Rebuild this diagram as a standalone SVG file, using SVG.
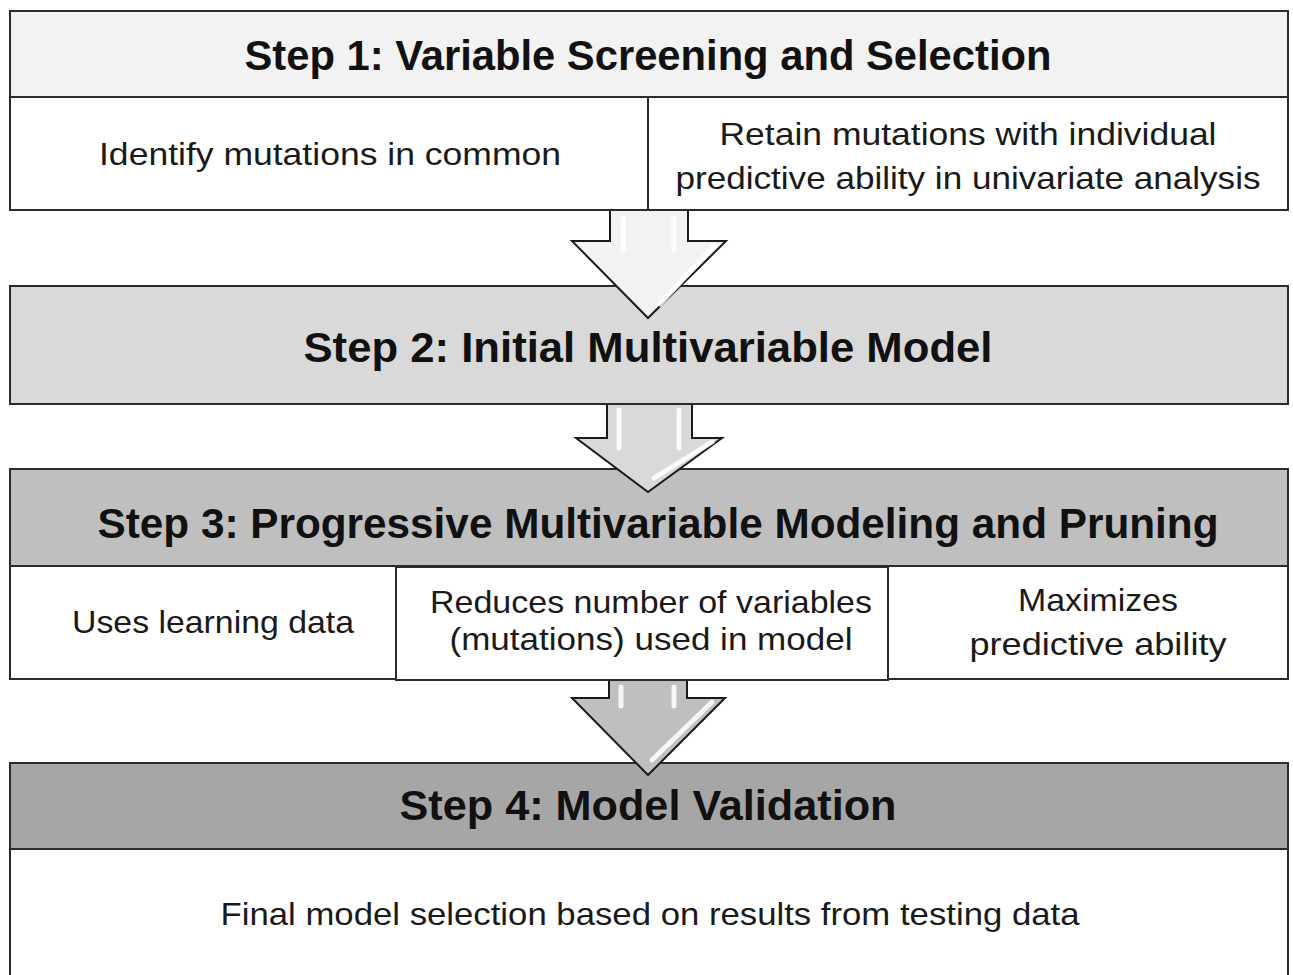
<svg xmlns="http://www.w3.org/2000/svg" width="1293" height="975" viewBox="0 0 1293 975">
<style>
.box{stroke:#2b2b2b;stroke-width:2}
.h{font-family:"Liberation Sans",Arial,sans-serif;font-weight:bold;font-size:43px;fill:#111;text-anchor:middle}
.t{font-family:"Liberation Sans",Arial,sans-serif;font-size:32px;fill:#1a1a1a;text-anchor:middle}
.arr{stroke:#1a1a1a;stroke-width:2;stroke-linejoin:miter}
.gl{fill:none;stroke:#fff;stroke-linecap:round;opacity:0.85}
</style>
<rect width="1293" height="975" fill="#fff"/>
<g id="step1">
<rect class="box" x="10" y="11" width="1278" height="86" fill="#f2f2f2"/>
<rect class="box" x="10" y="97" width="638" height="113" fill="#fff"/>
<rect class="box" x="648" y="97" width="640" height="113" fill="#fff"/>
<text class="h" x="648" y="70" textLength="807" lengthAdjust="spacingAndGlyphs">Step 1: Variable Screening and Selection</text>
<text class="t" x="330" y="165" textLength="462" lengthAdjust="spacingAndGlyphs">Identify mutations in common</text>
<text class="t" x="968" y="145" textLength="497" lengthAdjust="spacingAndGlyphs">Retain mutations with individual</text>
<text class="t" x="968" y="189" textLength="585" lengthAdjust="spacingAndGlyphs">predictive ability in univariate analysis</text>
</g>
<g id="step2">
<rect class="box" x="10" y="286" width="1278" height="118" fill="#d9d9d9"/>
<text class="h" x="648" y="362" textLength="689" lengthAdjust="spacingAndGlyphs">Step 2: Initial Multivariable Model</text>
</g>
<g id="step3">
<rect class="box" x="10" y="469" width="1278" height="97" fill="#bfbfbf"/>
<rect class="box" x="10" y="566" width="386" height="113" fill="#fff"/>
<rect class="box" x="888" y="566" width="400" height="113" fill="#fff"/>
<rect class="box" x="396" y="567" width="492" height="113" fill="#fff"/>
<text class="h" x="658" y="538" textLength="1121" lengthAdjust="spacingAndGlyphs">Step 3: Progressive Multivariable Modeling and Pruning</text>
<text class="t" x="213" y="633" textLength="282" lengthAdjust="spacingAndGlyphs">Uses learning data</text>
<text class="t" x="651" y="613" textLength="442" lengthAdjust="spacingAndGlyphs">Reduces number of variables</text>
<text class="t" x="651" y="650" textLength="403" lengthAdjust="spacingAndGlyphs">(mutations) used in model</text>
<text class="t" x="1098" y="611" textLength="160" lengthAdjust="spacingAndGlyphs">Maximizes</text>
<text class="t" x="1098" y="655" textLength="257" lengthAdjust="spacingAndGlyphs">predictive ability</text>
</g>
<g id="step4">
<rect class="box" x="10" y="763" width="1278" height="86" fill="#a6a6a6"/>
<path class="box" d="M10 849 V980 M1288 849 V980" fill="none"/>
<text class="h" x="648" y="820" textLength="497" lengthAdjust="spacingAndGlyphs">Step 4: Model Validation</text>
<text class="t" x="650" y="925" textLength="859" lengthAdjust="spacingAndGlyphs">Final model selection based on results from testing data</text>
</g>
<g id="connectors">
<path class="arr" fill="#f2f2f2" d="M610 211 V241 H572 L648 318 L726 241 H688 V211"/>
<path class="gl" stroke-width="5" d="M623 218 V250 M674 218 V250 M714 246 L660 304"/>
<path class="arr" fill="#d9d9d9" d="M607 405 V438 H576 L648 492 L722 438 H692 V405"/>
<path class="gl" stroke-width="5" d="M619 410 V448 M679 410 V448 M712 442 L654 478"/>
<path class="arr" fill="#bfbfbf" d="M609 681 V698 H572 L648 775 L725 698 H687 V681"/>
<path class="gl" stroke-width="5" d="M621 687 V706 M674 687 V706 M712 702 L652 760"/>
</g>
</svg>
